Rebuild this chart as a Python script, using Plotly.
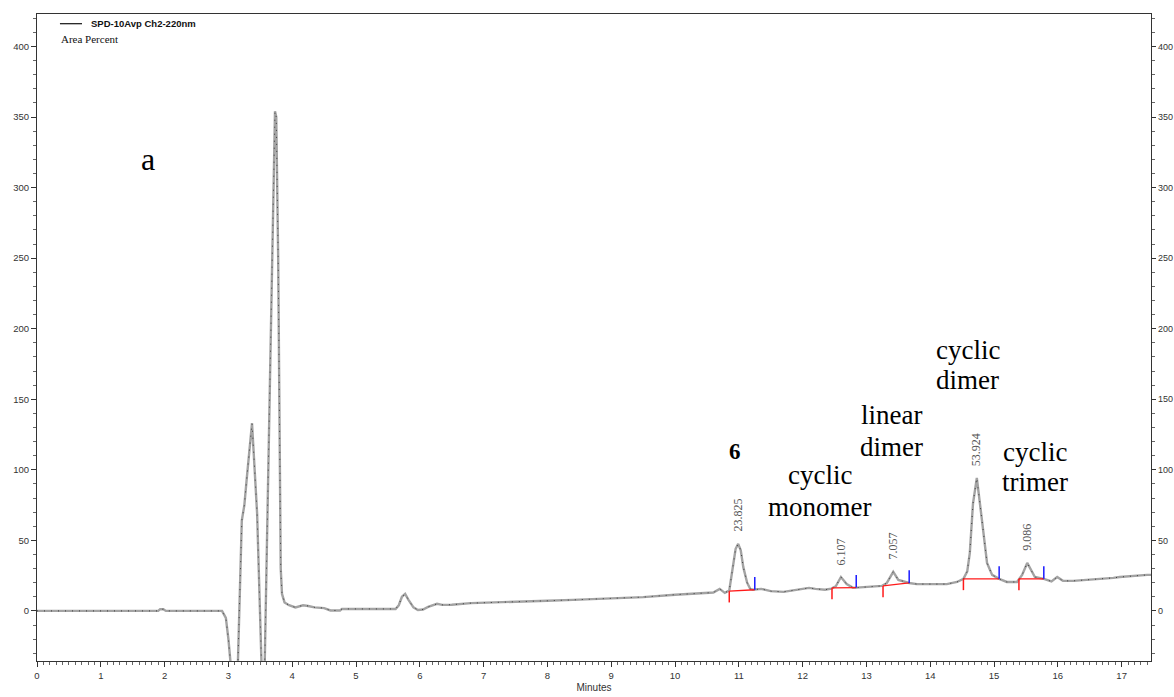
import plotly.graph_objects as go

# ---- data ----
time_min = [0.0, 1.90, 1.93, 1.98, 2.02, 2.90, 2.96, 3.00, 3.04, 3.08, 3.12, 3.15,
            3.21, 3.25, 3.29, 3.37, 3.45, 3.51, 3.53, 3.56, 3.57, 3.65, 3.70, 3.73,
            3.75, 3.78, 3.82, 3.84, 3.88, 3.95, 4.05, 4.17, 4.25, 4.35, 4.50, 4.60,
            4.75, 4.78, 5.62, 5.67, 5.72, 5.77, 5.82, 5.90, 5.97, 6.05, 6.13, 6.22,
            6.27, 6.35, 6.50, 6.80, 7.00, 7.40, 8.00, 8.40, 9.00, 9.50, 10.00, 10.45,
            10.60, 10.70, 10.78, 10.85, 10.91, 10.95, 10.99, 11.03, 11.07, 11.13, 11.18,
            11.22, 11.35, 11.50, 11.70, 11.90, 12.10, 12.20, 12.35, 12.45, 12.52, 12.60,
            12.69, 12.79, 13.00, 13.24, 13.32, 13.42, 13.50, 13.67, 13.79, 14.26, 14.42,
            14.52, 14.58, 14.62, 14.67, 14.73, 14.81, 14.89, 14.97, 15.08, 15.20, 15.36,
            15.44, 15.52, 15.64, 15.78, 15.90, 15.99, 16.08, 16.24, 16.87, 16.97, 17.40,
            17.46]
signal_mv = [0, 0, 1.2, 1.2, 0, 0, -5, -20, -40, -60, -50, -35,
             64, 75, 95, 133, 69, -35, -55, -40, -35, 160, 290, 354,
             350, 250, 30, 12, 6, 4, 2.5, 4, 3.5, 2.5, 2.0, 0.3,
             0.3, 1.4, 1.4, 4, 10, 12, 8, 2.5, 0.7, 1, 2.8, 4.5,
             5, 4.3, 4.4, 5.5, 5.7, 6.3, 7.2, 7.8, 8.6, 9.8, 11.5, 12.3,
             13, 15.6, 12.8, 14.5, 31, 44, 47.5, 43, 31, 20, 15.5,
             15, 15.6, 14, 13.5, 15, 16.3, 15.6, 15, 15.8, 17.5, 24,
             19, 16.3, 17, 17.7, 19.8, 27.7, 22, 19.8, 19, 19, 20.5,
             22.7, 28, 41, 76, 94.3, 64.5, 34, 25.5, 22.7, 20.5, 20.5,
             25.5, 34, 24, 22.7, 20.9, 24, 21.3, 21.3, 23.4, 24, 25.5,
             25.5]

peak_apex_time = [10.99, 12.60, 13.42, 14.73, 15.52]
peak_apex_height = [47.5, 24, 27.7, 94.3, 34]
peak_area_pct = ["23.825", "6.107", "7.057", "53.924", "9.086"]
peak_start_time = [10.85, 12.46, 13.26, 14.52, 15.39]
peak_end_time = [11.25, 12.84, 13.67, 15.08, 15.78]
peak_start_base = [14, 16.3, 17.7, 22.7, 22.7]
peak_end_base = [15, 16.5, 19.8, 22.7, 22.7]

compound_lines = ["cyclic", "monomer", "linear", "dimer", "cyclic", "dimer", "cyclic", "trimer"]
compound_x = [12.27, 12.27, 13.40, 13.40, 14.59, 14.59, 15.64, 15.64]
compound_y = [96.5, 73.8, 139, 116.3, 185, 163.8, 112.8, 91.5]

x_ticks = list(range(0, 18))
y_ticks = list(range(0, 401, 50))

SERIF = "Liberation Serif, Times New Roman, serif"
SANS = "Liberation Sans, Arial, sans-serif"

fig = go.Figure()
fig.add_trace(go.Scatter(x=time_min, y=signal_mv, mode="lines",
                         line=dict(color="#a3a3a3", width=2.4),
                         hoverinfo="skip", showlegend=False))
fig.add_trace(go.Scatter(x=time_min, y=signal_mv, mode="lines",
                         line=dict(color="#222222", width=0.8, dash="1px,6px"),
                         hoverinfo="skip", showlegend=False))
# invisible trace to activate right axis
fig.add_trace(go.Scatter(x=[time_min[0], time_min[-1]], y=[signal_mv[0], signal_mv[-1]],
                         yaxis="y2", mode="lines", line=dict(color="rgba(0,0,0,0)"),
                         hoverinfo="skip", showlegend=False))

# integration baselines and markers
TICK_DOWN = 8
TICK_UP = 9
for s, e, bs, be in zip(peak_start_time, peak_end_time, peak_start_base, peak_end_base):
    fig.add_trace(go.Scatter(x=[s, e], y=[bs, be], mode="lines",
                             line=dict(color="#ff1a1a", width=1.3),
                             hoverinfo="skip", showlegend=False))
    fig.add_trace(go.Scatter(x=[s, s], y=[bs, bs - TICK_DOWN], mode="lines",
                             line=dict(color="#ff1a1a", width=1.5),
                             hoverinfo="skip", showlegend=False))
    fig.add_trace(go.Scatter(x=[e, e], y=[be, be + TICK_UP], mode="lines",
                             line=dict(color="#1a1aff", width=1.5),
                             hoverinfo="skip", showlegend=False))

annotations = []
for t, h, a in zip(peak_apex_time, peak_apex_height, peak_area_pct):
    annotations.append(dict(x=t, y=h, text=a, textangle=-90, showarrow=False,
                            xanchor="center", yanchor="bottom", yshift=10,
                            font=dict(family=SERIF, size=12, color="#555555")))
for txt, x, y in zip(compound_lines, compound_x, compound_y):
    annotations.append(dict(x=x, y=y, text=txt, showarrow=False,
                            xanchor="center", yanchor="middle",
                            font=dict(family=SERIF, size=27, color="#000000")))
annotations.append(dict(x=10.94, y=112.8, text="<b>6</b>", showarrow=False,
                        xanchor="center", yanchor="middle",
                        font=dict(family=SERIF, size=23, color="#000000")))
annotations.append(dict(x=1.74, y=320, text="a", showarrow=False,
                        xanchor="center", yanchor="middle",
                        font=dict(family=SERIF, size=32, color="#000000")))
# legend-like header
annotations.append(dict(xref="paper", yref="paper", x=0.047, y=0.985,
                        text="<b>SPD-10Avp Ch2-220nm</b>", showarrow=False,
                        xanchor="left", yanchor="middle",
                        font=dict(family=SANS, size=9.5, color="#111111")))
annotations.append(dict(xref="paper", yref="paper", x=0.020, y=0.962,
                        text="Area Percent", showarrow=False,
                        xanchor="left", yanchor="middle",
                        font=dict(family=SERIF, size=11, color="#111111")))

shapes = [dict(type="line", xref="paper", yref="paper", x0=0.0206, x1=0.0404,
               y0=0.985, y1=0.985, line=dict(color="#111111", width=1.2))]

axis_font = dict(family=SANS, size=9.5, color="#333333")
fig.update_layout(
    width=1174, height=697,
    margin=dict(l=37, r=23, t=14, b=36, autoexpand=False),
    paper_bgcolor="white", plot_bgcolor="white",
    annotations=annotations, shapes=shapes,
    xaxis=dict(range=[0, 17.46], tickvals=x_ticks, ticks="outside", ticklen=5,
               tickcolor="#333333", showline=True, linecolor="#333333", linewidth=1.2,
               mirror=True, showgrid=False, zeroline=False, tickfont=axis_font,
               automargin=False,
               minor=dict(dtick=0.1, ticks="outside", ticklen=2.5, tickcolor="#666666"),
               title=dict(text="Minutes", font=dict(family=SANS, size=10, color="#333333"),
                          standoff=4)),
    yaxis=dict(range=[-35.5, 423], tickvals=y_ticks, ticks="outside", ticklen=5,
               tickcolor="#333333", showline=True, linecolor="#333333", linewidth=1.2,
               showgrid=False, zeroline=False, tickfont=axis_font, automargin=False,
               minor=dict(dtick=10, ticks="outside", ticklen=3, tickcolor="#666666")),
    yaxis2=dict(range=[-35.5, 423], tickvals=y_ticks, ticks="outside", ticklen=4,
                tickcolor="#333333", showline=True, linecolor="#333333", linewidth=1.2,
                overlaying="y", side="right", showgrid=False, zeroline=False,
                tickfont=dict(family=SANS, size=9, color="#333333"), automargin=False,
                ticklabelstandoff=0,
                minor=dict(dtick=10, ticks="outside", ticklen=3, tickcolor="#666666")),
)

fig.write_html("out.html")
